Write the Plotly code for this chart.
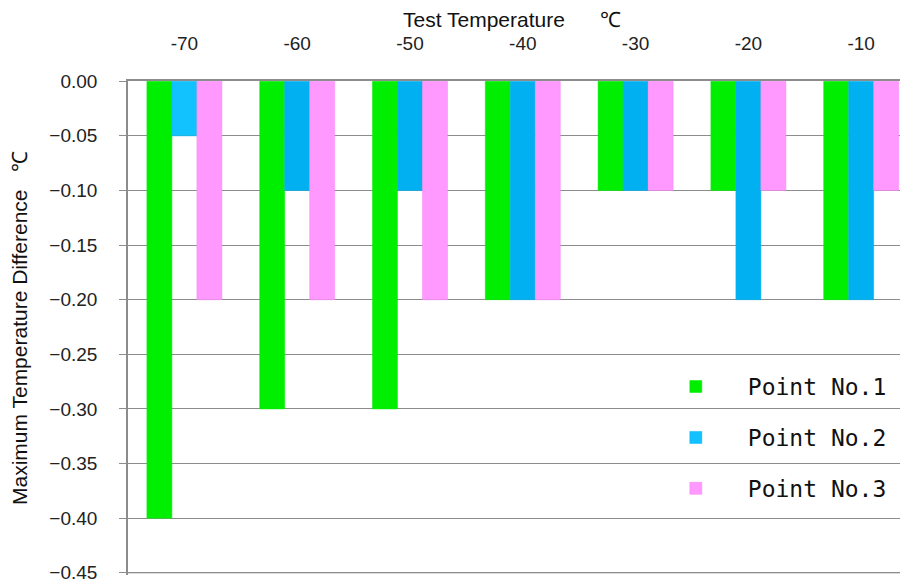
import plotly.graph_objects as go

categories = ["-70", "-60", "-50", "-40", "-30", "-20", "-10"]
point1 = [-0.40, -0.30, -0.30, -0.20, -0.10, -0.10, -0.20]
point2 = [-0.05, -0.10, -0.10, -0.20, -0.10, -0.20, -0.20]
point3 = [-0.20, -0.20, -0.20, -0.20, -0.10, -0.10, -0.10]
series_names = ["Point No.1", "Point No.2", "Point No.3"]
y_ticks = [0.0, -0.05, -0.10, -0.15, -0.20, -0.25, -0.30, -0.35, -0.40, -0.45]
x_title = "Test Temperature" + "\u00a0" * 6 + "\u2103"
y_title = "Maximum Temperature Difference" + "\u00a0" * 3 + "\u2103"

green = "#00EE00"
blue = "#00B0F0"
blue_light = "#12C2FF"
pink = "#FF99FF"

bar_colors = [
    green,
    [blue_light] + [blue] * (len(categories) - 1),
    pink,
]
line_colors = [green, blue, "#F585F5"]

fig = go.Figure()
for i, (name, vals) in enumerate(zip(series_names, [point1, point2, point3])):
    fig.add_trace(go.Bar(
        x=categories, y=vals, name=name,
        marker=dict(color=bar_colors[i], line=dict(color=line_colors[i], width=0.5)),
        legendgroup=name,
    ))

axis_col = "#8C8C8C"
# bottom gridline at the lowest tick value
fig.add_hline(y=min(y_ticks), line=dict(color=axis_col, width=1), layer="below")

fig.update_layout(
    width=908, height=584,
    margin=dict(l=120, r=0, t=73, b=17),
    paper_bgcolor="white", plot_bgcolor="white",
    barmode="group", bargap=0.335, bargroupgap=0,
    font=dict(family="Liberation Sans, Arial, sans-serif", size=19, color="#222222"),
    xaxis=dict(
        side="top", type="category", range=[-0.5, 6.486], automargin=False,
        showline=True, linecolor=axis_col, linewidth=1.5,
        showgrid=False, ticks="", ticklabelstandoff=22,
        tickfont=dict(size=19),
    ),
    yaxis=dict(
        range=[-0.452, 0.0002], tickvals=y_ticks, tickformat=".2f", automargin=False,
        showline=True, linecolor=axis_col, linewidth=1.5,
        showgrid=True, gridcolor=axis_col, gridwidth=1,
        zeroline=False,
        ticks="outside", ticklen=7, tickcolor=axis_col, tickwidth=1,
        ticklabelstandoff=18, tickfont=dict(size=19),
        title=dict(text=y_title, font=dict(size=21, color="#111111"), standoff=19),
    ),
    legend=dict(
        x=0.6546, y=0.425, xanchor="left", yanchor="top",
        bgcolor="rgba(0,0,0,0)", traceorder="grouped", tracegroupgap=18,
        itemwidth=94,
        font=dict(family="DejaVu Sans Mono, monospace", size=23, color="#111111"),
    ),
    annotations=[dict(
        text=x_title, xref="paper", yref="paper", x=0.487, y=1.124,
        xanchor="center", yanchor="middle", showarrow=False,
        font=dict(size=21, color="#111111"),
    )],
)

fig.write_html("out.html")
